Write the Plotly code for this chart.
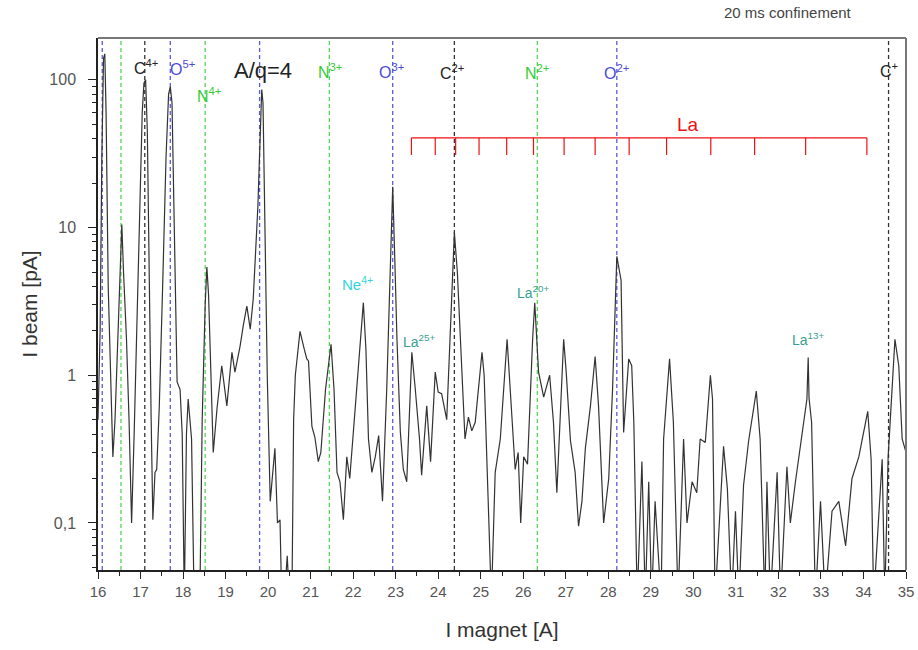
import plotly.graph_objects as go
import numpy as np

# ---- spectrum data (I magnet [A], I beam [pA]) ----
i_magnet = [16.00, 16.05, 16.09, 16.13, 16.16, 16.19, 16.24, 16.29, 16.35, 16.40, 16.47, 16.53, 16.56, 16.60,
            16.67, 16.73, 16.79, 16.85, 16.92, 16.98, 17.04, 17.08, 17.12, 17.16, 17.20, 17.25, 17.29, 17.34,
            17.38, 17.44, 17.52, 17.60, 17.66, 17.70, 17.74, 17.80, 17.86, 17.93, 17.98, 18.03, 18.08, 18.12,
            18.17, 18.20, 18.26, 18.33, 18.40, 18.45, 18.52, 18.56, 18.60, 18.66, 18.71, 18.80, 18.91, 19.03,
            19.15, 19.22, 19.34, 19.42, 19.50, 19.58, 19.65, 19.76, 19.82, 19.85, 19.88, 19.93, 19.98, 20.05,
            20.16, 20.22, 20.28, 20.32, 20.38, 20.45, 20.50, 20.56, 20.60, 20.64, 20.75, 20.85, 20.91, 20.95,
            21.03, 21.10, 21.18, 21.24, 21.35, 21.48, 21.55, 21.62, 21.69, 21.77, 21.85, 21.92, 22.05, 22.24,
            22.30, 22.36, 22.44, 22.52, 22.60, 22.69, 22.79, 22.87, 22.93, 22.98, 23.03, 23.11, 23.18, 23.26,
            23.38, 23.46, 23.56, 23.61, 23.73, 23.82, 23.93, 24.00, 24.08, 24.20, 24.30, 24.38, 24.45, 24.56,
            24.63, 24.71, 24.79, 24.87, 25.03, 25.08, 25.17, 25.25, 25.34, 25.46, 25.62, 25.73, 25.81, 25.88,
            25.94, 26.01, 26.10, 26.22, 26.27, 26.36, 26.48, 26.62, 26.71, 26.79, 26.95, 27.01, 27.11, 27.22,
            27.30, 27.38, 27.46, 27.58, 27.69, 27.77, 27.89, 28.01, 28.10, 28.20, 28.30, 28.36, 28.48, 28.55,
            28.60, 28.68, 28.79, 28.87, 28.95, 29.02, 29.10, 29.24, 29.30, 29.44, 29.53, 29.64, 29.77, 29.85,
            29.97, 30.08, 30.16, 30.28, 30.40, 30.45, 30.51, 30.71, 30.80, 30.90, 30.99, 31.07, 31.18, 31.30,
            31.48, 31.57, 31.68, 31.73, 31.81, 31.97, 32.05, 32.20, 32.28, 32.40, 32.56, 32.67, 32.70, 32.72,
            32.78, 32.87, 32.99, 33.10, 33.26, 33.42, 33.58, 33.73, 33.89, 34.10, 34.18, 34.24, 34.44, 34.50,
            34.58, 34.74, 34.83, 34.91, 35.00]
i_beam = [0.5, 2.0, 30, 140, 150, 60, 4.0, 1.2, 0.28, 0.5, 2.0, 8, 10.5, 5,
          1.75, 0.5, 0.1, 0.4, 3, 15, 60, 95, 100, 45, 5, 0.5, 0.105, 0.22,
          0.23, 0.6, 4, 30, 80, 90, 70, 8, 0.9, 0.8, 0.4, 0.03, 0.4, 0.69,
          0.45, 0.37, 0.03, 0.03, 0.04, 0.5, 3, 5.4, 3.5, 0.8, 0.30, 0.6, 1.16, 0.62,
          1.43, 1.05, 1.57, 2.2, 2.94, 2.05, 3.27, 14, 60, 86, 70, 10, 1.0, 0.14,
          0.32, 0.1, 0.105, 0.03, 0.03, 0.06, 0.03, 0.03, 0.5, 1.0, 1.98, 1.5, 1.29, 1.25,
          0.45, 0.38, 0.26, 0.30, 0.8, 1.62, 0.8, 0.22, 0.19, 0.105, 0.28, 0.2, 0.6, 3.1,
          1.5, 0.37, 0.22, 0.28, 0.39, 0.14, 0.81, 5, 18.9, 6, 1.75, 0.41, 0.23, 0.19,
          1.43, 0.81, 0.37, 0.21, 0.62, 0.26, 1.05, 0.77, 0.75, 0.5, 2.9, 9.25, 5.0, 1.05,
          0.37, 0.52, 0.42, 0.48, 1.43, 1.0, 0.19, 0.03, 0.22, 0.37, 1.75, 0.48, 0.23, 0.3,
          0.1, 0.28, 0.25, 1.75, 3.1, 1.05, 0.71, 1.0, 0.48, 0.16, 1.75, 1.05, 0.36, 0.22,
          0.095, 0.14, 0.32, 0.62, 1.34, 0.62, 0.1, 0.2, 0.81, 6.37, 4.4, 0.41, 1.29, 1.16,
          0.48, 0.03, 0.26, 0.03, 0.19, 0.03, 0.14, 0.03, 0.37, 1.29, 0.48, 0.03, 0.37, 0.1,
          0.19, 0.16, 0.37, 0.35, 1.0, 0.69, 0.03, 0.33, 0.17, 0.03, 0.12, 0.03, 0.18, 0.36,
          0.78, 0.37, 0.03, 0.19, 0.03, 0.22, 0.03, 0.24, 0.1, 0.19, 0.39, 0.69, 1.32, 0.7,
          0.48, 0.03, 0.14, 0.03, 0.12, 0.14, 0.07, 0.2, 0.28, 0.57, 0.27, 0.03, 0.27, 0.03,
          0.28, 1.75, 1.16, 0.37, 0.3]

# ---- reference lines (ion positions) ----
blue_lines = [16.10, 17.70, 19.80, 22.93, 28.20]
green_lines = [16.54, 18.52, 21.44, 26.33]
black_lines = [17.10, 24.38, 34.59]

# ---- La charge state comb (q = 25 ... 12) ----
la_positions = [23.37, 23.93, 24.41, 24.96, 25.61, 26.24, 26.96, 27.69, 28.49, 29.37, 30.41, 31.44, 32.64, 34.08]

# ---- ion labels: text, x, log10(y), color ----
ion_text = ["C<sup>4+</sup>", "O<sup>5+</sup>", "N<sup>4+</sup>", "N<sup>3+</sup>", "O<sup>3+</sup>",
            "C<sup>2+</sup>", "N<sup>2+</sup>", "O<sup>2+</sup>", "C<sup>+</sup>"]
ion_x = [16.80, 17.65, 18.28, 21.13, 22.56, 24.00, 26.00, 27.86, 34.33]
ion_logy = [2.088, 2.081, 1.899, 2.061, 2.061, 2.054, 2.054, 2.054, 2.068]
ion_color = ["#222222", "#4a4ad8", "#33cc33", "#33cc33", "#4a4ad8", "#222222", "#33cc33", "#4a4ad8", "#222222"]

la_text = ["La<sup>25+</sup>", "La<sup>20+</sup>", "La<sup>13+</sup>"]
la_x = [23.13, 25.80, 32.28]
la_logy = [0.230, 0.561, 0.243]

ytick_vals = [0.1, 1, 10, 100]
ytick_text = ["0,1", "1", "10", "100"]

FONT = "Liberation Sans, Arial, sans-serif"

fig = go.Figure()
fig.add_trace(go.Scatter(x=i_magnet, y=i_beam, mode="lines",
                         line=dict(color="#333333", width=1.2), showlegend=False, hoverinfo="skip"))

# La comb as a trace (data coordinates)
comb_y = 40.5
tick_bottom = 31.0
cx = [la_positions[0], la_positions[-1], None]
cy = [comb_y, comb_y, None]
for p in la_positions:
    cx += [p, p, None]
    cy += [comb_y, tick_bottom, None]
fig.add_trace(go.Scatter(x=cx, y=cy, mode="lines", line=dict(color="#ee1111", width=1.2),
                         showlegend=False, hoverinfo="skip"))

shapes = []
for xs, col in [(blue_lines, "#5a5ae0"), (green_lines, "#55d655"), (black_lines, "#333333")]:
    for xv in xs:
        shapes.append(dict(type="line", xref="x", yref="paper", x0=xv, x1=xv, y0=0, y1=1,
                           line=dict(color=col, width=1.3, dash="4px,3px"), layer="below"))
# frame top/right (gray)
shapes.append(dict(type="line", xref="paper", yref="paper", x0=0, x1=1, y0=1, y1=1,
                   line=dict(color="#777777", width=2)))
shapes.append(dict(type="line", xref="paper", yref="paper", x0=1, x1=1, y0=0, y1=1,
                   line=dict(color="#777777", width=2)))

annotations = []
for t, xv, ly, c in zip(ion_text, ion_x, ion_logy, ion_color):
    annotations.append(dict(text=t, x=xv, y=ly, xref="x", yref="y", xanchor="left", yanchor="middle",
                            showarrow=False, font=dict(family=FONT, size=16, color=c)))
annotations.append(dict(text="A/q=4", x=19.16, y=2.061, xref="x", yref="y", xanchor="left",
                        yanchor="middle", showarrow=False, font=dict(family=FONT, size=22, color="#222222")))
annotations.append(dict(text="Ne<sup>4+</sup>", x=21.69, y=0.622, xref="x", yref="y", xanchor="left",
                        yanchor="middle", showarrow=False, font=dict(family=FONT, size=15, color="#33d3dd")))
for t, xv, ly in zip(la_text, la_x, la_logy):
    annotations.append(dict(text=t, x=xv, y=ly, xref="x", yref="y", xanchor="left", yanchor="middle",
                            showarrow=False, font=dict(family=FONT, size=14, color="#3a9e90")))
annotations.append(dict(text="La", x=29.88, y=1.696, xref="x", yref="y", xanchor="center",
                        yanchor="middle", showarrow=False, font=dict(family=FONT, size=19, color="#ee1111")))
annotations.append(dict(text="20 ms confinement", x=0.854, y=1.047, xref="paper", yref="paper",
                        xanchor="center", yanchor="middle", showarrow=False, borderpad=0,
                        font=dict(family=FONT, size=15, color="#444444")))

minor_y = []
for k in range(-2, 3):
    for m in range(2, 10):
        minor_y.append(m * 10.0 ** k)

fig.update_layout(
    width=918, height=650,
    margin=dict(l=98, r=12, t=38, b=80),
    paper_bgcolor="white", plot_bgcolor="white",
    font=dict(family=FONT, size=15, color="#555555"),
    shapes=shapes, annotations=annotations,
    xaxis=dict(range=[16, 35], dtick=1, tick0=16, showgrid=False, zeroline=False,
               showline=True, linecolor="#222222", linewidth=1.5,
               ticks="outside", ticklen=7, tickcolor="#222222",
               minor=dict(dtick=0.5, tick0=16, ticks="outside", ticklen=4, tickcolor="#222222", showgrid=False),
               tickfont=dict(size=15, color="#555555"), automargin=False,
               title=dict(text="I magnet [A]", font=dict(size=21, color="#333333"), standoff=24)),
    yaxis=dict(type="log", range=[np.log10(0.048), np.log10(192)], showgrid=False, zeroline=False,
               showline=True, linecolor="#222222", linewidth=1.5,
               tickvals=ytick_vals, ticktext=ytick_text,
               ticks="outside", ticklen=8, tickcolor="#222222", ticklabelstandoff=9,
               minor=dict(tickvals=minor_y, ticks="outside", ticklen=4, tickcolor="#222222", showgrid=False),
               tickfont=dict(size=16, color="#555555"), automargin=False,
               title=dict(text="I beam [pA]", font=dict(size=21, color="#333333"), standoff=6)),
)

# remove the browser's default 8px body margin so the figure fills the window exactly
fig.write_html("out.html", config={"displayModeBar": False},
               post_script="document.body.style.margin='0';document.body.style.overflow='hidden';")
